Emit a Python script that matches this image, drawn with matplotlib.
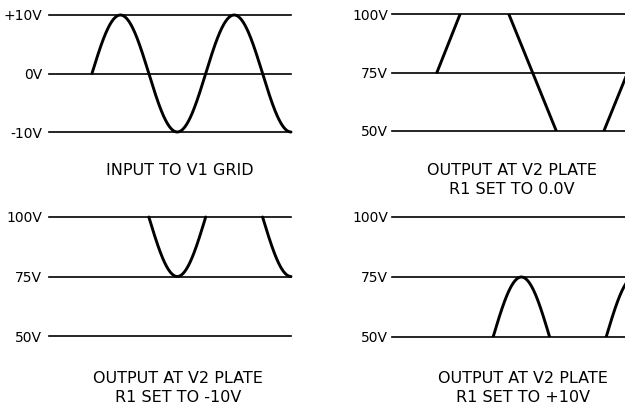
import numpy as np
import matplotlib.pyplot as plt

IN_LEVELS  = [10, 0, -10]
IN_LABELS  = ["+10V", "0V", "-10V"]
OUT_LEVELS = [100, 75, 50]
OUT_LABELS = ["100V", "75V", "50V"]

IN_PEAK    = 10      # V, grid drive amplitude
PLATE_GAIN = 2.5     # plate volts per grid volt
CUTOFF     = 100     # R1 = -10V : plate sits at 100V, only dips
SATURATION = 50      # R1 = +10V : plate sits at 50V, only rises

# R1 = 0.0V trace is clipped flat top and bottom: corner points
TRAP_PHASE = [0, 44, 136, 226, 316, 406]
TRAP_VOLTS = [75, 100, 100, 50, 50, 100]

CAPTIONS = [
    "INPUT TO V1 GRID",
    "OUTPUT AT V2 PLATE\nR1 SET TO 0.0V",
    "OUTPUT AT V2 PLATE\nR1 SET TO -10V",
    "OUTPUT AT V2 PLATE\nR1 SET TO +10V",
]

W, H = 625, 408
fig = plt.figure(figsize=(W / 100, H / 100), dpi=100)
fig.patch.set_facecolor("white")


def panel(x0, x1, ytop, ybot, levels, labels, xlim, pad):
    ax = fig.add_axes([x0 / W, 1 - ybot / H, (x1 - x0) / W, (ybot - ytop) / H])
    ax.set_xlim(*xlim)
    ax.set_ylim(min(levels), max(levels))
    for v in levels:
        ax.axhline(v, color="black", lw=1.2, clip_on=False, zorder=1)
    ax.set_yticks(levels)
    ax.set_yticklabels(labels, fontsize=10)
    ax.tick_params(axis="y", length=0, pad=pad)
    ax.set_xticks([])
    for s in ax.spines.values():
        s.set_visible(False)
    ax.patch.set_alpha(0)
    return ax


WAVE = dict(color="black", lw=2.1, solid_capstyle="round", zorder=3)

# ── top left: grid input ───────────────────────────────────────────────
ax1 = panel(49, 291, 15, 132, IN_LEVELS, IN_LABELS, (-136, 630), 5)
ph = np.linspace(0, 630, 701)
vin = IN_PEAK * np.sin(np.radians(ph))
ax1.plot(ph, vin, clip_on=False, **WAVE)

# ── top right: R1 at 0.0V, ramps only (flats lie on the gridlines) ─────
ax2 = panel(392, 625, 14, 131, OUT_LEVELS, OUT_LABELS, (-85, 356), 3)
for i in range(len(TRAP_PHASE) - 1):
    if TRAP_VOLTS[i] != TRAP_VOLTS[i + 1]:
        ax2.plot(TRAP_PHASE[i:i + 2], TRAP_VOLTS[i:i + 2], **WAVE)

# ── bottom left: R1 at -10V, negative half only ────────────────────────
ax3 = panel(49, 291, 217, 336, OUT_LEVELS, OUT_LABELS, (-136, 630), 5)
out_neg = np.where(vin > 1e-9, np.nan, CUTOFF + PLATE_GAIN * vin)
ax3.plot(ph, out_neg, clip_on=False, **WAVE)

# ── bottom right: R1 at +10V, positive half only ───────────────────────
ax4 = panel(392, 625, 217, 337, OUT_LEVELS, OUT_LABELS, (-322, 420), 3)
out_pos = np.where(vin < -1e-9, np.nan, SATURATION + PLATE_GAIN * vin)
ax4.plot(ph, out_pos, **WAVE)

# ── captions ───────────────────────────────────────────────────────────
cap_xy = [(180, 170), (512, 180), (178, 388), (523, 388)]
for (cx, cy), txt in zip(cap_xy, CAPTIONS):
    fig.text(cx / W, 1 - cy / H, txt, ha="center", va="center",
             fontsize=11.5, linespacing=1.35)

plt.savefig("out.png", dpi=100)
